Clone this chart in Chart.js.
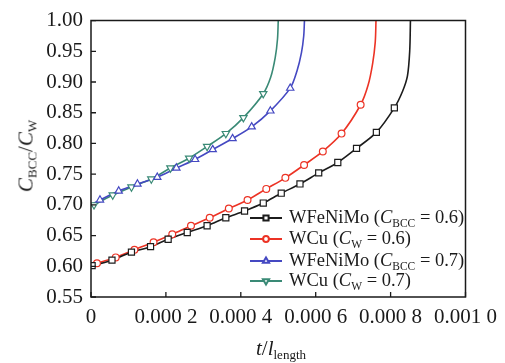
<!DOCTYPE html>
<html>
<head>
<meta charset="utf-8">
<script src="https://cdn.jsdelivr.net/npm/chart.js@4/dist/chart.umd.min.js"></script>
<style>
  html, body { margin: 0; padding: 0; background: #fff; }
  #wrap { position: relative; width: 505px; height: 363px; overflow: hidden; }
  #c { position: absolute; left: 0; top: 0; }
  .t { position: absolute; font-family: "Liberation Serif", "DejaVu Serif", serif; color: #1a1a1a; white-space: nowrap; line-height: 1; }
  .t sub { font-size: 0.62em; vertical-align: baseline; position: relative; top: 0.32em; }
  #ytitle { left: 26px; top: 156px; font-size: 21px; transform: translate(-50%, -50%) rotate(-90deg); }
  #xtitle { left: 281px; top: 338px; font-size: 21px; transform: translateX(-50%); }
  .leg { left: 289px; font-size: 18.5px; }
</style>
</head>
<body>
<div id="wrap">
  <canvas id="c" width="505" height="363"></canvas>
  <div class="t" id="ytitle"><i>C</i><sub>BCC</sub>/<i>C</i><sub>W</sub></div>
  <div class="t" id="xtitle"><i>t</i>/<i>l</i><sub>length</sub></div>
  <div class="t leg" style="top:208px">WFeNiMo (<i>C</i><sub>BCC</sub> = 0.6)</div>
  <div class="t leg" style="top:229px">WCu (<i>C</i><sub>W</sub> = 0.6)</div>
  <div class="t leg" style="top:251px">WFeNiMo (<i>C</i><sub>BCC</sub> = 0.7)</div>
  <div class="t leg" style="top:271px">WCu (<i>C</i><sub>W</sub> = 0.7)</div>
</div>
<script>
// ---- data ----
const xTickValues = [0, 0.0002, 0.0004, 0.0006, 0.0008, 0.0010];
const xTickLabels = ['0', '0.000 2', '0.000 4', '0.000 6', '0.000 8', '0.001 0'];
const yTickValues = [0.55, 0.60, 0.65, 0.70, 0.75, 0.80, 0.85, 0.90, 0.95, 1.00];
const yTickLabels = ['0.55', '0.60', '0.65', '0.70', '0.75', '0.80', '0.85', '0.90', '0.95', '1.00'];

const seriesNames = ['WFeNiMo (C_BCC = 0.6)', 'WCu (C_W = 0.6)', 'WFeNiMo (C_BCC = 0.7)', 'WCu (C_W = 0.7)'];

// WFeNiMo (C_BCC = 0.6)
const feni06StartT = [0];
const feni06StartC = [0.600];
const feni06MarkT = [0.000003, 0.000056, 0.000108, 0.000159, 0.000206, 0.000257, 0.000310, 0.000360, 0.000410, 0.000460, 0.000508, 0.000558, 0.000608, 0.000659, 0.000709, 0.000762, 0.000810];
const feni06MarkC = [0.601, 0.610, 0.623, 0.632, 0.644, 0.655, 0.666, 0.679, 0.690, 0.703, 0.719, 0.734, 0.752, 0.769, 0.792, 0.818, 0.858];
const feni06TailT = [0.000832, 0.000845, 0.000851, 0.000853];
const feni06TailC = [0.885, 0.910, 0.950, 1.000];

// WCu (C_W = 0.6)
const cu06StartT = [0];
const cu06StartC = [0.601];
const cu06MarkT = [0.000016, 0.000066, 0.000116, 0.000167, 0.000217, 0.000267, 0.000317, 0.000368, 0.000418, 0.000468, 0.000519, 0.000569, 0.000619, 0.000669, 0.000720];
const cu06MarkC = [0.605, 0.6145, 0.627, 0.639, 0.652, 0.666, 0.679, 0.694, 0.708, 0.726, 0.744, 0.765, 0.787, 0.816, 0.863];
const cu06TailT = [0.000740, 0.000752, 0.000759, 0.000761];
const cu06TailC = [0.895, 0.930, 0.965, 1.000];

// WFeNiMo (C_BCC = 0.7)
const feni07StartT = [0];
const feni07StartC = [0.700];
const feni07MarkT = [0.000024, 0.000074, 0.000124, 0.000177, 0.000228, 0.000278, 0.000325, 0.000378, 0.000429, 0.000479, 0.000532];
const feni07MarkC = [0.708, 0.7226, 0.734, 0.745, 0.760, 0.774, 0.790, 0.808, 0.827, 0.853, 0.890];
const feni07TailT = [0.000550, 0.000562, 0.000568, 0.000570];
const feni07TailC = [0.918, 0.948, 0.975, 1.000];

// WCu (C_W = 0.7)
const cu07StartT = [0];
const cu07StartC = [0.699];
const cu07MarkT = [0.000008, 0.000058, 0.000108, 0.000161, 0.000212, 0.000262, 0.000310, 0.000360, 0.000407, 0.000460];
const cu07MarkC = [0.700, 0.716, 0.729, 0.742, 0.760, 0.776, 0.795, 0.816, 0.842, 0.881];
const cu07TailT = [0.000480, 0.000492, 0.000498, 0.000500];
const cu07TailC = [0.908, 0.940, 0.970, 1.000];

// ---- styles ----
const colors = ['#1c1c1c', '#ec3325', '#4549c2', '#3a8a76'];
const markerStyles = ['rect', 'circle', 'triangle', 'triangle'];
const markerRot = [0, 0, 0, 180];
const markerRadius = [4.3, 3.4, 4.2, 4.2];

function pts(t, c) { return t.map((v, i) => ({ x: v, y: c[i] })); }

const seriesDefs = [
  { start: pts(feni06StartT, feni06StartC), mark: pts(feni06MarkT, feni06MarkC), tail: pts(feni06TailT, feni06TailC) },
  { start: pts(cu06StartT, cu06StartC), mark: pts(cu06MarkT, cu06MarkC), tail: pts(cu06TailT, cu06TailC) },
  { start: pts(feni07StartT, feni07StartC), mark: pts(feni07MarkT, feni07MarkC), tail: pts(feni07TailT, feni07TailC) },
  { start: pts(cu07StartT, cu07StartC), mark: pts(cu07MarkT, cu07MarkC), tail: pts(cu07TailT, cu07TailC) }
];

const datasets = [];
seriesDefs.forEach((s, i) => {
  datasets.push({
    label: seriesNames[i],
    data: s.start.concat(s.mark, s.tail),
    borderColor: colors[i],
    borderWidth: 1.6,
    pointRadius: 0,
    fill: false,
    tension: 0.3,
    order: 2
  });
});
seriesDefs.forEach((s, i) => {
  datasets.push({
    label: seriesNames[i] + ' markers',
    data: s.mark,
    showLine: false,
    pointStyle: markerStyles[i],
    rotation: markerRot[i],
    pointRadius: markerRadius[i],
    pointBackgroundColor: '#ffffff',
    pointBorderColor: colors[i],
    pointBorderWidth: 1.2,
    order: 1
  });
});

const font = { family: '"Liberation Serif", "DejaVu Serif", serif', size: 21 };

const framePlugin = {
  id: 'frame',
  afterDraw(chart) {
    const ctx = chart.ctx;
    const a = chart.chartArea;
    const xs = chart.scales.x, ys = chart.scales.y;
    ctx.save();
    ctx.fillStyle = '#ffffff';
    ctx.strokeStyle = '#1a1a1a';
    ctx.lineWidth = 1.5;
    ctx.beginPath();
    ctx.moveTo(a.left, a.top); ctx.lineTo(a.right, a.top); ctx.lineTo(a.right, a.bottom);
    ctx.lineTo(a.left, a.bottom); ctx.closePath();
    ctx.stroke();
    ctx.lineWidth = 1.3;
    ctx.beginPath();
    yTickValues.forEach(v => { const y = ys.getPixelForValue(v); ctx.moveTo(a.left, y); ctx.lineTo(a.left + 5, y); });
    xTickValues.forEach(v => { const x = xs.getPixelForValue(v); ctx.moveTo(x, a.bottom); ctx.lineTo(x, a.bottom - 5); });
    ctx.stroke();
    // legend samples
    const rows = [218, 239, 261, 281];
    rows.forEach((y, i) => {
      ctx.strokeStyle = colors[i];
      ctx.lineWidth = 2;
      ctx.beginPath(); ctx.moveTo(250, y); ctx.lineTo(282, y); ctx.stroke();
      Chart.helpers.drawPoint(ctx, { pointStyle: markerStyles[i], rotation: markerRot[i], radius: markerRadius[i] * 0.85, borderWidth: 1.2 }, 266, y);
    });
    ctx.restore();
  }
};

new Chart(document.getElementById('c').getContext('2d'), {
  type: 'line',
  data: { datasets },
  options: {
    responsive: false,
    animation: false,
    layout: { padding: { top: 18, right: 36, left: 0, bottom: 0 } },
    plugins: { legend: { display: false }, tooltip: { enabled: false } },
    scales: {
      x: {
        type: 'linear', min: 0, max: 0.001,
        afterFit(s) { s.height = 66; },
        afterBuildTicks(s) { s.ticks = xTickValues.map(v => ({ value: v })); },
        ticks: { callback: (v, i) => xTickLabels[i], font, color: '#1a1a1a', padding: 8, maxRotation: 0, autoSkip: false },
        grid: { display: false, drawTicks: false },
        border: { display: false }
      },
      y: {
        type: 'linear', min: 0.55, max: 1.0,
        afterFit(s) { s.width = 91; },
        afterBuildTicks(s) { s.ticks = yTickValues.map(v => ({ value: v })); },
        ticks: { callback: (v, i) => yTickLabels[i], font, color: '#1a1a1a', padding: 8, autoSkip: false },
        grid: { display: false, drawTicks: false },
        border: { display: false }
      }
    }
  },
  plugins: [framePlugin]
});
</script>
</body>
</html>
